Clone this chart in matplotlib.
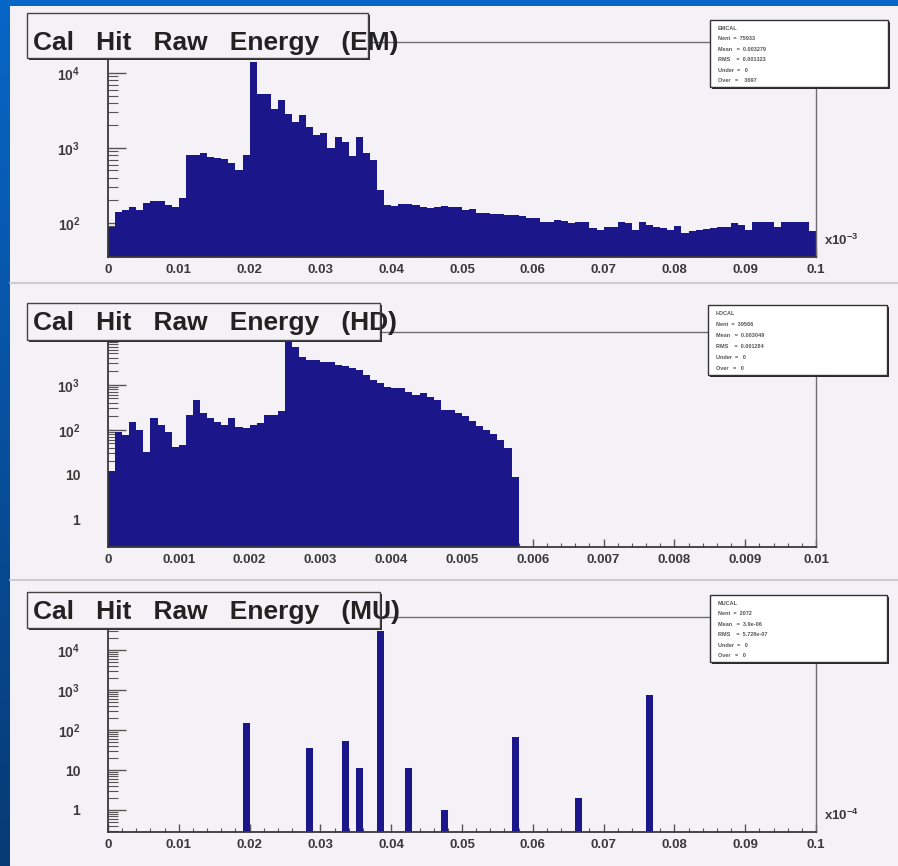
import numpy as np
import matplotlib
matplotlib.use("Agg")
import matplotlib.pyplot as plt
from matplotlib.patches import Rectangle
from matplotlib.ticker import FixedLocator, LogLocator, NullFormatter

W, H = 898, 866

# --- data (counts per bin) ---
em_edges = np.linspace(0, 0.1, 101)
em_counts = [89, 141, 150, 165, 150, 185, 193, 193, 174, 165,
             215, 810, 810, 865, 765, 740, 710, 630, 510, 810,
             14000, 5260, 5260, 3270, 4360, 2800, 2200, 2750, 1900, 1500,
             1580, 1000, 1400, 1200, 780, 1400, 860, 700, 275, 175,
             170, 180, 180, 175, 165, 160, 165, 170, 165, 165,
             149, 155, 135, 135, 130, 130, 128, 128, 125, 115,
             115, 104, 104, 108, 106, 99, 104, 104, 85, 81,
             89, 89, 104, 100, 81, 104, 95, 89, 85, 81,
             92, 73, 78, 81, 84, 85, 89, 89, 99, 95,
             81, 102, 102, 102, 89, 104, 104, 104, 104, 77]

hd_edges = np.linspace(0, 0.01, 101)
hd_counts = [12, 90, 78, 150, 100, 32, 185, 130, 90, 42,
             46, 215, 460, 240, 185, 150, 130, 185, 117, 110,
             130, 140, 215, 215, 260, 9100, 7100, 4240, 3600, 3600,
             3300, 3300, 2800, 2600, 2400, 2200, 1660, 1300, 1100, 900,
             860, 860, 700, 600, 650, 540, 460, 280, 280, 240,
             200, 160, 120, 100, 80, 60, 40, 9] + [0] * 42

mu_edges = np.linspace(0, 0.1, 101)
mu_bins = [19, 28, 33, 35, 38, 42, 47, 57, 66, 76]
mu_hits = [150, 35, 53, 11, 30000, 11, 1, 66, 2, 750]

em_ticks = [0, 0.01, 0.02, 0.03, 0.04, 0.05, 0.06, 0.07, 0.08, 0.09, 0.1]
em_ticklabels = ["0", "0.01", "0.02", "0.03", "0.04", "0.05", "0.06", "0.07", "0.08", "0.09", "0.1"]
hd_ticks = [0, 0.001, 0.002, 0.003, 0.004, 0.005, 0.006, 0.007, 0.008, 0.009, 0.01]
hd_ticklabels = ["0", "0.001", "0.002", "0.003", "0.004", "0.005", "0.006", "0.007", "0.008", "0.009", "0.01"]

titles = ["Cal   Hit   Raw   Energy   (EM)", "Cal   Hit   Raw   Energy   (HD)", "Cal   Hit   Raw   Energy   (MU)"]
stats = [["EMCAL", "Nent  =  75933", "Mean   =  0.003279", "RMS    =  0.001323", "Under  =   0", "Over   =    3697"],
         ["HDCAL", "Nent  =  39566", "Mean   =  0.003049", "RMS    =  0.001284", "Under  =   0", "Over   =   0"],
         ["MUCAL", "Nent  =  2072", "Mean   =  3.9e-06", "RMS    =  5.728e-07", "Under  =   0", "Over   =   0"]]

plt.rcParams['font.family'] = ['Liberation Sans', 'DejaVu Sans']
plt.rcParams['font.weight'] = 'bold'
plt.rcParams['mathtext.fontset'] = 'custom'
plt.rcParams['mathtext.rm'] = 'Liberation Sans:bold'
plt.rcParams['mathtext.bf'] = 'Liberation Sans:bold'
plt.rcParams['mathtext.it'] = 'Liberation Sans:bold'

navy = '#1b168a'
pad_bg = '#f4f2f7'
txt = '#3a3a3a'

def fx(px):
    return px / W

def fy(py):
    return 1 - py / H

fig = plt.figure(figsize=(W / 100, H / 100), dpi=100)

# slide background
gy, gx = np.mgrid[0:1:200j, 0:1:200j]
r = 0.03 + 0.0 * gx
g = 0.40 - 0.17 * gy * (1 - 0.5 * gx)
b = 0.78 - 0.32 * gy * (1 - 0.5 * gx)
grad = np.dstack([r, g, b])
bg = fig.add_axes([0, 0, 1, 1], zorder=-10)
bg.imshow(grad, aspect='auto', extent=[0, 1, 0, 1], origin='upper')
bg.axis('off')

fig.patches.append(Rectangle((fx(10), fy(866)), (W - 10) / W, (866 - 6) / H,
                             transform=fig.transFigure, facecolor=pad_bg,
                             edgecolor='none', zorder=-5))
for sy in [283, 580]:
    fig.lines.append(plt.Line2D([fx(10), 1], [fy(sy), fy(sy)], transform=fig.transFigure,
                                color='#c4c4c8', lw=1.2, zorder=-4))

panels = [
    dict(top=42, bottom=257, edges=em_edges, counts=em_counts, ylim=(35, 25900),
         ticks=em_ticks, labels=em_ticklabels, ymaj=[100, 1000, 10000],
         ylab=[r'$10^{2}$', r'$10^{3}$', r'$10^{4}$'], title_box=(27, 13, 368, 58),
         title_y=43, stat_box=(710, 20, 888, 87), mult=r'x$10^{-3}$'),
    dict(top=332, bottom=547, edges=hd_edges, counts=hd_counts, ylim=(0.25, 15000),
         ticks=hd_ticks, labels=hd_ticklabels, ymaj=[1, 10, 100, 1000, 10000],
         ylab=['1', '10', r'$10^{2}$', r'$10^{3}$', ''], title_box=(27, 303, 380, 340),
         title_y=323, stat_box=(708, 305, 887, 375), mult=None),
    dict(top=617, bottom=832, edges=mu_edges, counts=None, ylim=(0.28, 68000),
         ticks=em_ticks, labels=em_ticklabels, ymaj=[1, 10, 100, 1000, 10000],
         ylab=['1', '10', r'$10^{2}$', r'$10^{3}$', r'$10^{4}$'], title_box=(27, 592, 380, 628),
         title_y=612, stat_box=(710, 595, 887, 662), mult=r'x$10^{-4}$'),
]

mu_counts = np.zeros(100)
for i, c in zip(mu_bins, mu_hits):
    mu_counts[i] = c

for k, p in enumerate(panels):
    ax = fig.add_axes([fx(108), fy(p['bottom']), (816 - 108) / W, (p['bottom'] - p['top']) / H])
    ax.set_facecolor(pad_bg)
    counts = np.array(p['counts'] if p['counts'] is not None else mu_counts, dtype=float)
    lo = p['ylim'][0]
    vals = np.where(counts > 0, counts, lo)
    ax.set_yscale('log')
    ax.stairs(vals, p['edges'], fill=True, baseline=lo, color=navy, lw=0)
    ax.set_xlim(p['edges'][0], p['edges'][-1])
    ax.set_ylim(*p['ylim'])
    ax.set_axisbelow(True)

    for s in ['left', 'bottom']:
        ax.spines[s].set_color('#3a3a3a')
        ax.spines[s].set_linewidth(1.3)
    for s in ['top', 'right']:
        ax.spines[s].set_color('#6e6e6e')
        ax.spines[s].set_linewidth(1.0)

    ax.xaxis.set_major_locator(FixedLocator(p['ticks']))
    ax.set_xticklabels(p['labels'])
    step = p['ticks'][1] / 5
    ax.xaxis.set_minor_locator(FixedLocator(np.arange(0, p['ticks'][-1] + step / 2, step)))
    ax.tick_params(axis='x', which='major', direction='in', length=6, width=1, color='#555555',
                   pad=5, labelsize=9.5, labelcolor=txt)
    ax.tick_params(axis='x', which='minor', direction='in', length=3, width=0.8, color='#555555')

    ax.yaxis.set_major_locator(FixedLocator(p['ymaj']))
    ax.set_yticklabels(p['ylab'])
    ax.yaxis.set_minor_locator(LogLocator(base=10, subs=np.arange(2, 10), numticks=20))
    ax.yaxis.set_minor_formatter(NullFormatter())
    ax.tick_params(axis='y', which='major', direction='in', length=13, width=1, color='#555555',
                   pad=20, labelsize=10, labelcolor=txt)
    ax.tick_params(axis='y', which='minor', direction='in', length=7, width=0.8, color='#555555')

    if p['mult']:
        ax.text(1.012, 0.04, p['mult'], transform=ax.transAxes, fontsize=9.5, color=txt,
                ha='left', va='bottom')

    # title box with shadow; the box edge is drawn over the title text
    x0, y0, x1, y1 = p['title_box']
    fig.patches.append(Rectangle((fx(x0 + 2), fy(y1 + 2)), (x1 - x0) / W, (y1 - y0) / H,
                                 transform=fig.transFigure, facecolor='#2a2a2a',
                                 edgecolor='none', zorder=1))
    fig.patches.append(Rectangle((fx(x0), fy(y1)), (x1 - x0) / W, (y1 - y0) / H,
                                 transform=fig.transFigure, facecolor=pad_bg,
                                 edgecolor='none', zorder=1.1))
    fig.text(fx(33), fy(p['title_y']), titles[k], fontsize=19, color='#222222',
             ha='left', va='center', zorder=1.2)
    fig.patches.append(Rectangle((fx(x0), fy(y1)), (x1 - x0) / W, (y1 - y0) / H,
                                 transform=fig.transFigure, facecolor='none',
                                 edgecolor='#444444', lw=1.0, zorder=1.3))

    # stats box with shadow
    x0, y0, x1, y1 = p['stat_box']
    fig.patches.append(Rectangle((fx(x0 + 2), fy(y1 + 2)), (x1 - x0) / W, (y1 - y0) / H,
                                 transform=fig.transFigure, facecolor='#2a2a2a',
                                 edgecolor='none', zorder=1))
    fig.patches.append(Rectangle((fx(x0), fy(y1)), (x1 - x0) / W, (y1 - y0) / H,
                                 transform=fig.transFigure, facecolor='white',
                                 edgecolor='#333333', lw=1.0, zorder=1.1))
    lh = (y1 - y0 - 4) / len(stats[k])
    for j, line in enumerate(stats[k]):
        fig.text(fx(x0 + 8), fy(y0 + 3 + lh * (j + 0.5)), line, fontsize=4, color='#555555',
                 ha='left', va='center', zorder=1.2)

fig.savefig("out.png", dpi=100)
